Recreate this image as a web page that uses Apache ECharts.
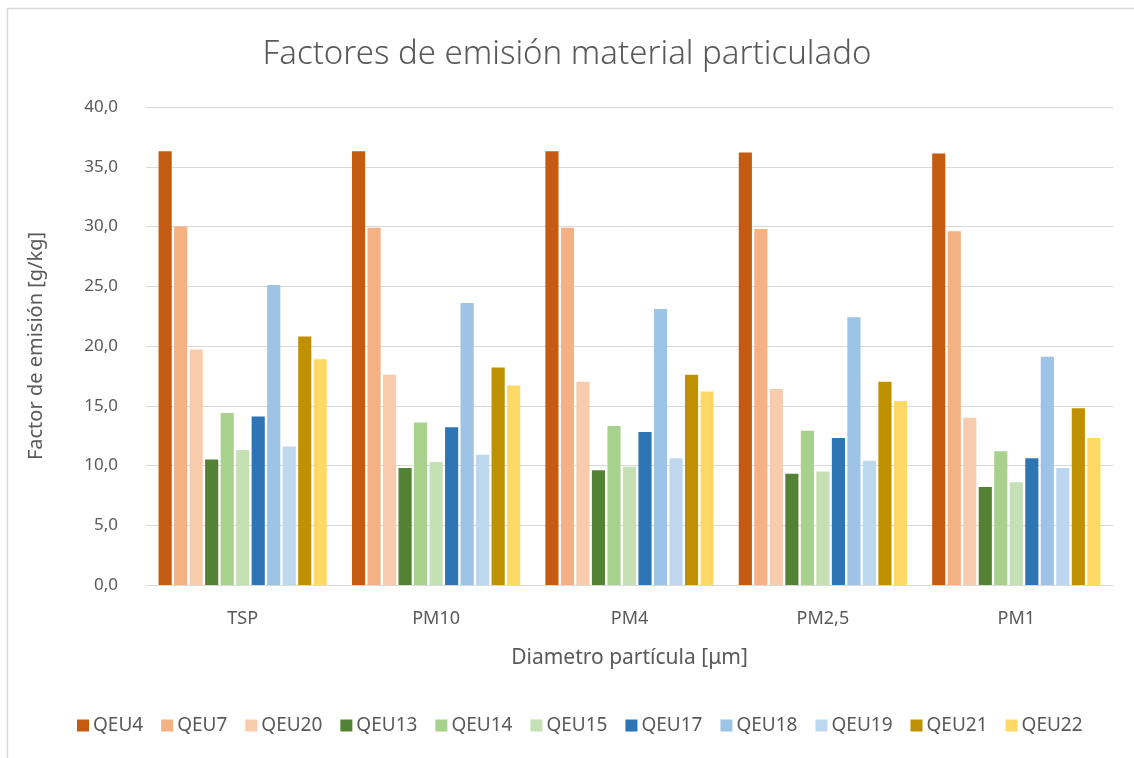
<!DOCTYPE html>
<html>
<head>
<meta charset="utf-8">
<script src="https://cdn.jsdelivr.net/npm/echarts@6/dist/echarts.min.js"></script>
<style>
html,body{margin:0;padding:0;background:#fff;}
#main{width:1134px;height:758px;}
</style>
</head>
<body>
<div id="main"></div>
<script>
const categories = ['TSP', 'PM10', 'PM4', 'PM2,5', 'PM1'];
const seriesNames = ['QEU4','QEU7','QEU20','QEU13','QEU14','QEU15','QEU17','QEU18','QEU19','QEU21','QEU22'];
const QEU4  = [36.3, 36.3, 36.3, 36.2, 36.1];
const QEU7  = [30.0, 29.9, 29.9, 29.8, 29.6];
const QEU20 = [19.7, 17.6, 17.0, 16.4, 14.0];
const QEU13 = [10.5, 9.8, 9.6, 9.3, 8.2];
const QEU14 = [14.4, 13.6, 13.3, 12.9, 11.2];
const QEU15 = [11.3, 10.3, 9.9, 9.5, 8.6];
const QEU17 = [14.1, 13.2, 12.8, 12.3, 10.6];
const QEU18 = [25.1, 23.6, 23.1, 22.4, 19.1];
const QEU19 = [11.6, 10.9, 10.6, 10.4, 9.8];
const QEU21 = [20.8, 18.2, 17.6, 17.0, 14.8];
const QEU22 = [18.9, 16.7, 16.2, 15.4, 12.3];
const seriesData = [QEU4,QEU7,QEU20,QEU13,QEU14,QEU15,QEU17,QEU18,QEU19,QEU21,QEU22];
const colors = ['#C55A11','#F4B183','#F8CBAD','#548235','#A9D18E','#C5E0B4','#2E75B6','#9DC3E6','#BDD7EE','#BF9000','#FFD966'];
const yTicks = {min: 0, max: 40, interval: 5};

const FONT = 'Noto Sans';
const TXT = '#595959';
const chart = echarts.init(document.getElementById('main'), null, {renderer:'canvas'});
chart.setOption({
  backgroundColor:'#fff',
  color: colors,
  animation:false,
  graphic:[{type:'rect', shape:{x:7.5,y:8.5,width:1140,height:760}, style:{fill:'none', stroke:'#D9D9D9', lineWidth:1.5}}],
  title:{
    text:'Factores de emisión material particulado',
    left:'center', top:33,
    textStyle:{fontFamily:FONT, fontWeight:300, fontSize:33, color:TXT}
  },
  legend:{
    data: seriesNames,
    bottom:18, left:72,
    itemWidth:12, itemHeight:12, itemGap:18,
    icon:'rect',
    textStyle:{fontFamily:FONT, fontSize:19, color:TXT, padding:[0,0,0,-1]}
  },
  grid:{left:146, right:21, top:107, bottom:173, containLabel:false},
  xAxis:{
    type:'category', data:categories,
    name:'Diametro partícula [μm]', nameLocation:'middle', nameGap:63,
    nameTextStyle:{fontFamily:FONT, fontSize:21, color:TXT},
    axisLine:{lineStyle:{color:'#D9D9D9', width:1}},
    axisTick:{show:false},
    axisLabel:{fontFamily:FONT, fontSize:18, color:TXT, margin:25}
  },
  yAxis:{
    type:'value', min:yTicks.min, max:yTicks.max, interval:yTicks.interval,
    name:'Factor de emisión [g/kg]', nameLocation:'middle', nameGap:100, nameRotate:90,
    nameTextStyle:{fontFamily:FONT, fontSize:20, color:TXT},
    axisLine:{show:false}, axisTick:{show:false},
    splitLine:{lineStyle:{color:'#D9D9D9', width:1}},
    axisLabel:{fontFamily:FONT, fontSize:17, color:TXT, margin:28,
      formatter: v => v.toFixed(1).replace('.', ',')}
  },
  series: seriesNames.map((n,i)=>({
    name:n, type:'bar', data:seriesData[i],
    barGap:'18%', barCategoryGap:'13%',
    itemStyle:{color:colors[i]}
  }))
});
</script>
</body>
</html>
